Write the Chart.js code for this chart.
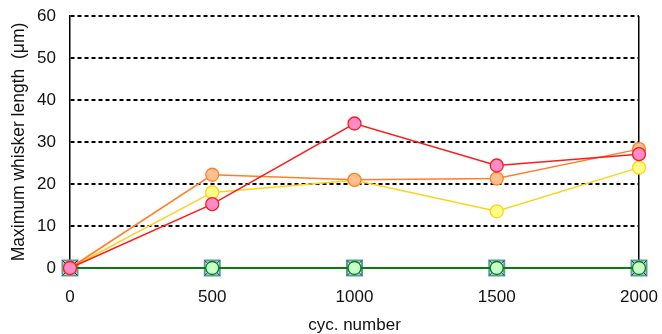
<!DOCTYPE html>
<html>
<head>
<meta charset="utf-8">
<script src="https://cdn.jsdelivr.net/npm/chart.js@4/dist/chart.umd.min.js"></script>
<style>
html,body{margin:0;padding:0;background:#fff;overflow:hidden;}
#wrap{width:662px;height:334px;position:relative;}
</style>
</head>
<body>
<div id="wrap"><canvas id="c" width="662" height="334"></canvas></div>
<script>
const cycles = ['0', '500', '1000', '1500', '2000'];
const redSeries    = [0, 15.2, 34.4, 24.4, 27.1];
const orangeSeries = [0, 22.2, 21.0, 21.3, 28.3];
const yellowSeries = [0, 18.0, 20.9, 13.5, 23.9];
const greenSeries  = [0, 0, 0, 0, 0];
const crossSeries  = [0, 0, 0, 0, 0];
const squareSeries = [0, 0, 0, 0, 0];
const yTicks = [0, 10, 20, 30, 40, 50, 60];

const FONT = 'Liberation Sans, Arial, sans-serif';

function circleSet(data, line, fill) {
  return {
    data: data, borderColor: line, backgroundColor: fill,
    pointBackgroundColor: fill, pointBorderColor: line,
    borderWidth: 1.5, pointRadius: 6.5, pointBorderWidth: 1.3,
    pointStyle: 'circle', tension: 0, fill: false, clip: false
  };
}

new Chart(document.getElementById('c'), {
  type: 'line',
  data: {
    labels: cycles,
    datasets: [
      circleSet(redSeries, '#ff1a1a', '#ff8cc8'),
      circleSet(orangeSeries, '#ff7f27', '#ffc090'),
      circleSet(yellowSeries, '#ffd21a', '#ffff88'),
      Object.assign(circleSet(greenSeries, '#0a7d12', '#c8ffc8'), {borderWidth: 2}),
      {data: crossSeries, showLine: false, pointStyle: 'crossRot', pointRadius: 10.6, clip: false,
       pointBorderColor: '#1a2a8c', pointBorderWidth: 1, borderColor: '#1a2a8c'},
      {data: squareSeries, showLine: false, pointStyle: 'rect', pointRadius: 10.6, clip: false,
       pointBorderColor: '#5a9ea0', pointBackgroundColor: 'rgba(200,235,235,0.5)',
       pointBorderWidth: 2, borderColor: '#5a9ea0'}
    ]
  },
  options: {
    responsive: false,
    animation: false,
    devicePixelRatio: 1,
    layout: {padding: {top: 16, right: 23, left: 0, bottom: 0}},
    plugins: {legend: {display: false}, tooltip: {enabled: false}},
    scales: {
      x: {
        type: 'category',
        offset: false,
        grid: {
          display: true, drawTicks: false,
          color: (ctx) => (ctx.index === cycles.length - 1 ? '#000' : 'rgba(0,0,0,0)'),
          lineWidth: 1.5
        },
        border: {display: true, color: '#000', width: 1.5},
        ticks: {color: '#111', font: {family: FONT, size: 17}, padding: 19, maxRotation: 0},
        title: {display: true, text: 'cyc. number', color: '#111',
                font: {family: FONT, size: 17, lineHeight: 1.0}, padding: {top: 0, bottom: 0}},
        afterFit: (s) => { s.height = 66; s.paddingLeft = 0; s.paddingRight = 0; }
      },
      y: {
        min: 0, max: 60,
        afterBuildTicks: (s) => { s.ticks = yTicks.map(v => ({value: v})); },
        grid: {
          display: true, drawTicks: false,
          color: (ctx) => (ctx.tick && ctx.tick.value === 0 ? 'rgba(0,0,0,0)' : '#000'),
          lineWidth: 2
        },
        border: {display: true, color: '#000', width: 1.5, dash: [4, 3]},
        ticks: {color: '#111', font: {family: FONT, size: 17}, padding: 14},
        title: {display: true, text: 'Maximum whisker length  (μm)', color: '#111',
                font: {family: FONT, size: 17.5}, padding: {top: 9, bottom: 0}},
        afterFit: (s) => { s.width = 70; s.paddingTop = 0; s.paddingBottom = 0; }
      }
    }
  }
});
</script>
</body>
</html>
